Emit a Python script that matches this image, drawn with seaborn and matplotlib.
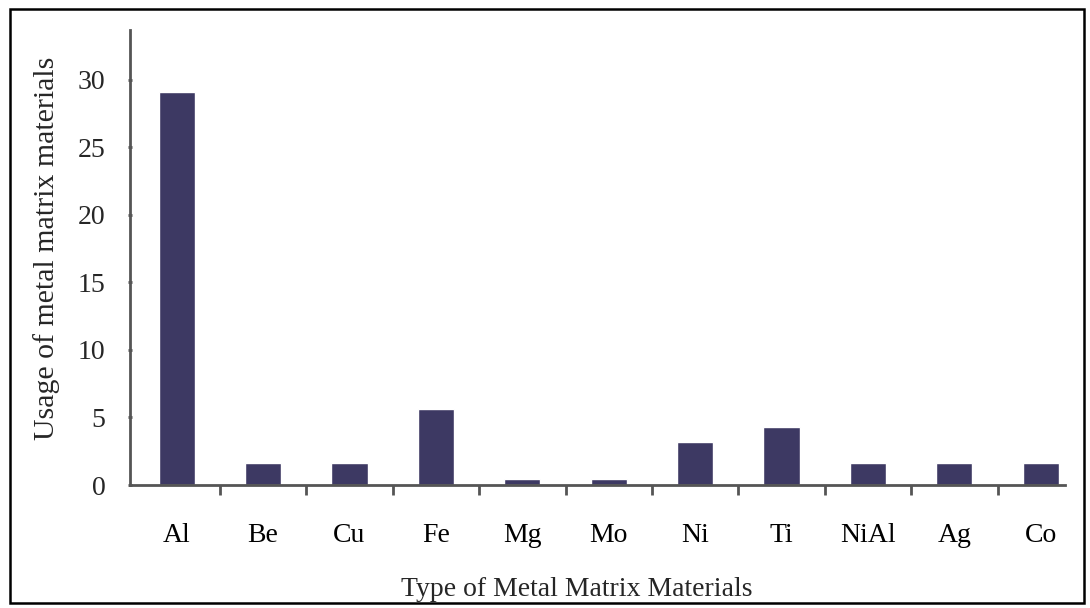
import matplotlib
matplotlib.use("Agg")
import matplotlib.pyplot as plt
from matplotlib.patches import Rectangle
from matplotlib.ticker import FixedLocator
import pandas as pd
import seaborn as sns

# values
metals = ["Al", "Be", "Cu", "Fe", "Mg", "Mo", "Ni", "Ti", "NiAl", "Ag", "Co"]
usage = [29.1, 1.6, 1.6, 5.6, 0.45, 0.45, 3.2, 4.3, 1.6, 1.6, 1.6]
y_ticks = [0, 5, 10, 15, 20, 25, 30]

bar_color = "#3d3963"
axis_color = "#555555"

df = pd.DataFrame({"Metal": metals, "Usage": usage})

sns.set_style("ticks")
plt.rcParams["font.family"] = ["Liberation Serif", "DejaVu Serif"]
plt.rcParams["font.size"] = 20

fig = plt.figure(figsize=(10.9, 6.08), dpi=100)
ax = fig.add_axes([0.119, 0.2023, 0.858, 0.7487])

sns.barplot(data=df, x="Metal", y="Usage", color=bar_color, width=0.42,
            saturation=1, ax=ax)

ax.set_xlim(-0.544, 10.28)
ax.set_ylim(0, 33.7)
ax.set_yticks(y_ticks)

sns.despine(ax=ax)
for side in ["left", "bottom"]:
    ax.spines[side].set_color(axis_color)
    ax.spines[side].set_linewidth(2)

# x tick marks sit between the categories, labels under the bars
ax.xaxis.set_minor_locator(FixedLocator([i + 0.5 for i in range(len(metals) - 1)]))
ax.tick_params(axis="x", which="major", length=0, pad=27, colors="black")
ax.tick_params(axis="x", which="minor", length=7, width=2, color=axis_color)
ax.tick_params(axis="y", length=3, width=2, direction="inout", color=axis_color, pad=16)

ax.set_xlabel("Type of Metal Matrix Materials")
ax.set_ylabel("Usage of metal matrix materials", fontsize=21.5)
ax.xaxis.set_label_coords(0.478, -0.203)
ax.yaxis.set_label_coords(-0.075, 0.52)

fig.patches.append(Rectangle((0.009, 0.008), 0.9855, 0.977, transform=fig.transFigure,
                             fill=False, edgecolor="black", linewidth=1.8))

fig.savefig("out.png", dpi=100)
